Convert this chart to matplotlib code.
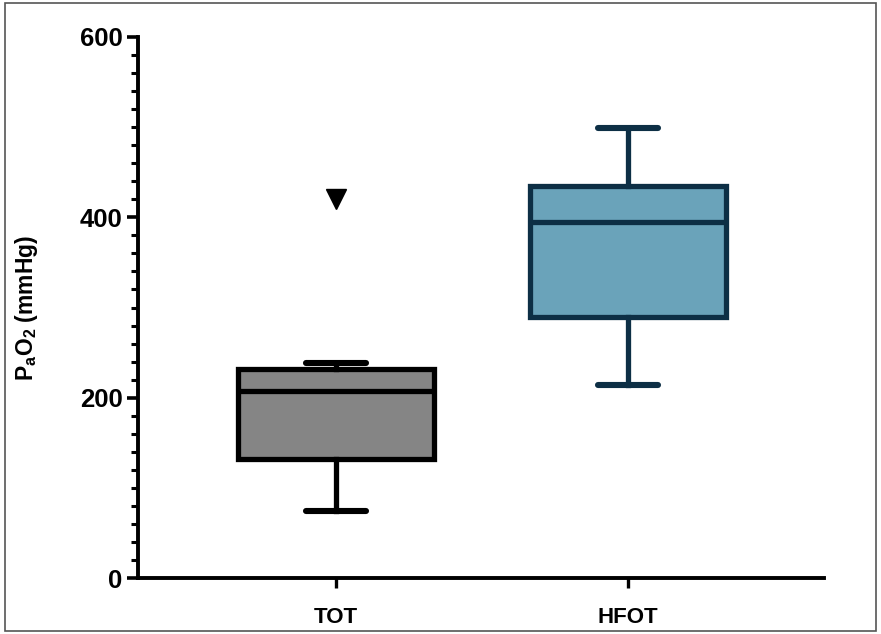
import matplotlib
matplotlib.use("Agg")
import matplotlib.pyplot as plt
from matplotlib.patches import Rectangle
from matplotlib.ticker import MultipleLocator

plt.rcParams['font.family'] = ['Liberation Sans', 'DejaVu Sans']
plt.rcParams['mathtext.fontset'] = 'custom'
plt.rcParams['mathtext.rm'] = 'Liberation Sans:bold'
plt.rcParams['mathtext.it'] = 'Liberation Sans:bold'
plt.rcParams['mathtext.bf'] = 'Liberation Sans:bold'

# Data
categories = ["TOT", "HFOT"]
whislo = [74, 214]
q1 = [132, 290]
med = [207, 395]
q3 = [232, 435]
whishi = [238, 499]
fliers = [[420], []]
fill_colors = ["#858585", "#6aa3ba"]
edge_colors = ["#000000", "#0d2f45"]
yticks = [0, 200, 400, 600]

fig = plt.figure(figsize=(8.81, 6.34), dpi=100)
ax = fig.add_axes([138/881, 1-578/634, (824-138)/881, (578-37)/634])

stats = []
for i, c in enumerate(categories):
    stats.append(dict(label=c, whislo=whislo[i], q1=q1[i], med=med[i],
                      q3=q3[i], whishi=whishi[i], fliers=fliers[i]))

positions = list(range(len(categories)))
for i in positions:
    ec = edge_colors[i]
    ax.bxp([stats[i]], positions=[i], widths=0.67, capwidths=0.205,
           patch_artist=True, showfliers=True,
           boxprops=dict(facecolor=fill_colors[i], edgecolor=ec, linewidth=3.8),
           medianprops=dict(color=ec, linewidth=3.8),
           whiskerprops=dict(color=ec, linewidth=3.8),
           capprops=dict(color=ec, linewidth=4.4, solid_capstyle='round'),
           flierprops=dict(marker='v', markerfacecolor='black', markeredgecolor='black',
                           markersize=14, linestyle='none'),
           manage_ticks=False)

ax.set_xlim(-0.678, 1.671)
ax.set_ylim(0, 600)
ax.set_xticks(positions)
ax.set_xticklabels(categories, fontsize=16, fontweight='bold')
ax.set_yticks(yticks)
ax.set_yticklabels([str(t) for t in yticks], fontsize=18.5, fontweight='bold')
ax.yaxis.set_minor_locator(MultipleLocator(20))

for s in ['top', 'right']:
    ax.spines[s].set_visible(False)
for s in ['left', 'bottom']:
    ax.spines[s].set_linewidth(2.8)
    ax.spines[s].set_color('black')

ax.tick_params(axis='y', which='major', length=8, width=2.6, pad=3)
ax.tick_params(axis='y', which='minor', length=5, width=2.2)
ax.tick_params(axis='x', which='major', length=7, width=2.4, pad=14)

ax.set_ylabel(r"$\mathregular{P_aO_2}$ (mmHg)", fontsize=16.5, fontweight='bold')
ax.yaxis.set_label_coords(-0.143, 0.5)

fig.patches.append(Rectangle((5/881, 3/634), 1-10/881, 1-6/634, transform=fig.transFigure,
                             fill=False, edgecolor='#555555', linewidth=1.2))

fig.savefig("out.png", dpi=100)
